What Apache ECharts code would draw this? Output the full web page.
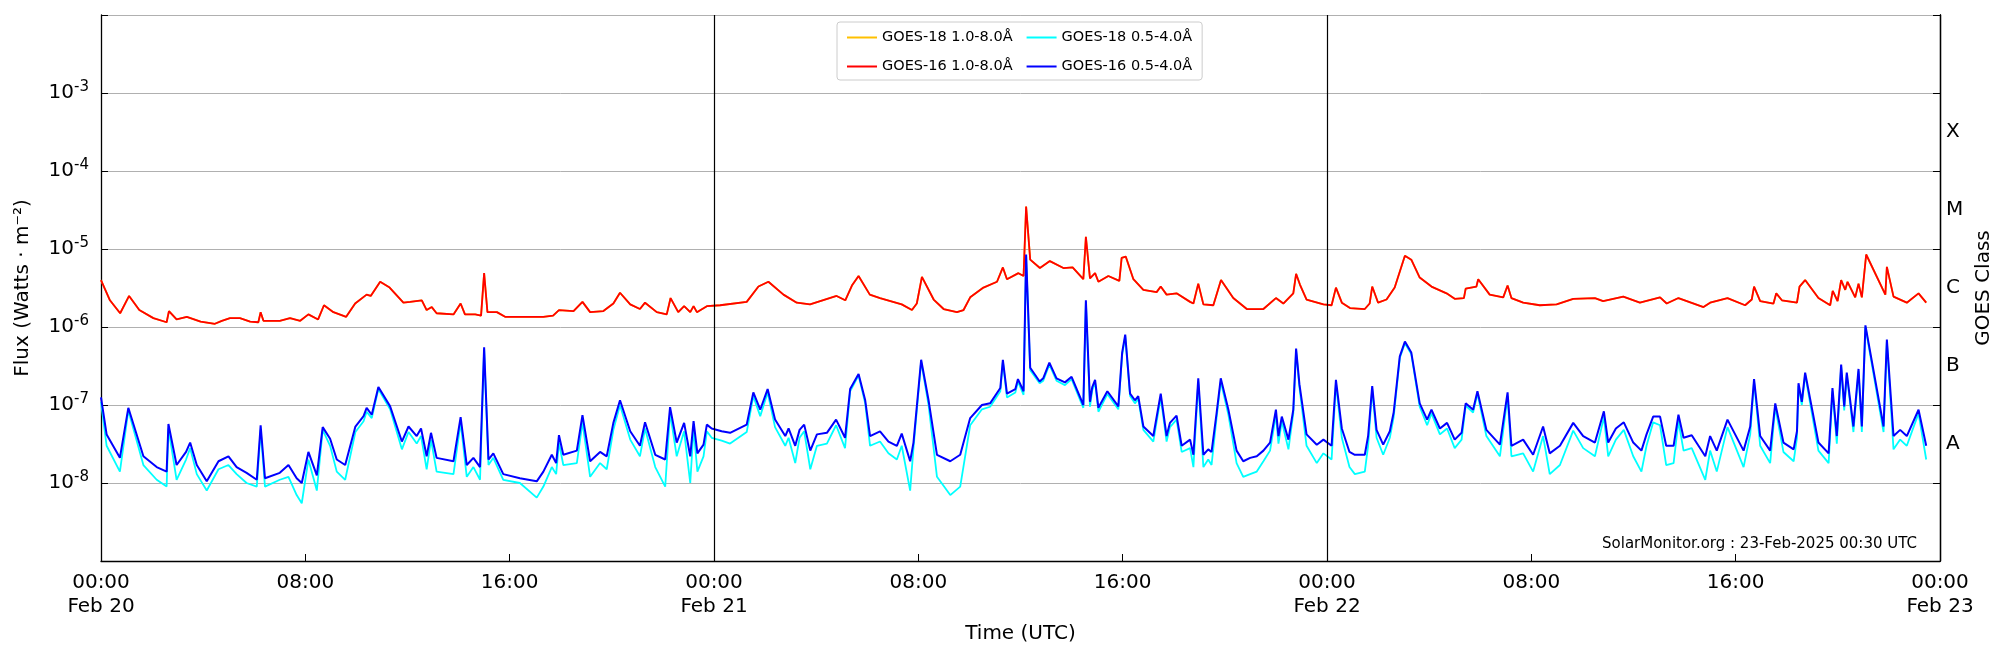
<!DOCTYPE html>
<html>
<head>
<meta charset="utf-8">
<script src="https://cdn.jsdelivr.net/npm/echarts@6/dist/echarts.min.js"></script>
<style>html,body{margin:0;padding:0;background:#fff;overflow:hidden}#chart{width:2000px;height:650px}</style>
</head>
<body>
<div id="chart"></div>
<script>
// hours since Feb 20 00:00 UTC, flux in units of 1e-9 W/m^2
var hoursLong = [0,0.35,0.75,1.1,1.5,2.05,2.57,2.66,2.96,3.36,3.9,4.46,4.73,5.05,5.44,5.84,6.16,6.25,6.36,7.0,7.4,7.8,8.12,8.5,8.73,9.1,9.6,9.95,10.4,10.56,10.93,11.3,11.84,12.1,
  12.56,12.75,12.95,13.14,13.8,14.08,14.25,14.65,14.88,15.0,15.13,15.5,15.82,16.4,17.32,17.7,17.93,18.5,18.85,19.15,19.67,20.06,20.32,20.72,21.1,21.3,21.76,22.15,22.3,22.6,22.83,23.07,23.2,23.33,23.72,24.24,
  25.28,25.74,26.13,26.72,27.24,27.76,28.8,29.14,29.4,29.66,30.1,30.5,31.35,31.75,31.94,32.14,32.6,32.99,33.51,33.77,34.03,34.55,35.08,35.31,35.47,35.92,36.12,36.22,36.38,
  36.76,37.15,37.68,38.04,38.46,38.56,38.72,38.92,39.05,39.44,39.87,39.96,40.12,40.42,40.81,41.33,41.49,41.72,42.11,42.64,42.77,42.96,43.16,43.55,43.85,44.33,44.86,45.51,46.0,46.29,46.68,46.79,46.94,47.2,47.86,48.18,48.35,48.58,
  48.9,49.48,49.67,49.77,50.0,50.33,50.65,51.05,51.3,51.63,52.09,52.68,53.0,53.36,53.43,53.85,53.92,54.37,54.9,55.07,55.22,55.68,56.33,56.99,57.64,58.49,58.81,59.6,60.25,
  61.04,61.3,61.76,62.74,63.0,63.68,64.37,64.63,64.72,64.96,65.48,65.59,65.81,66.4,66.5,66.72,67.24,67.7,67.8,67.99,68.13,68.29,68.38,68.68,68.81,68.94,69.11,69.86,69.92,70.18,70.7,71.16,71.46];
var g16Long = [4000,2200,1500,2500,1650,1300,1150,1600,1250,1350,1170,1100,1200,1300,1300,1170,1150,1550,1200,1200,1300,1200,1450,1250,1900,1550,1350,2000,2600,2500,3800,3200,2050,2100,
  2200,1650,1800,1500,1450,2000,1450,1450,1400,4900,1550,1550,1350,1350,1350,1400,1650,1600,2100,1550,1600,2000,2750,1950,1700,2050,1550,1450,2350,1550,1850,1550,1850,1550,1850,1900,
  2100,3300,3800,2600,2050,1950,2500,2200,3400,4500,2600,2350,1950,1650,2000,4400,2250,1700,1550,1650,2400,3200,3800,5800,4100,4900,4500,35000,7300,
  5700,7000,5700,5800,4100,14300,4200,4900,3800,4500,3900,7700,8000,4100,3000,2800,3300,2600,2700,2100,2000,3600,1950,1900,4000,2350,1700,1700,2350,2000,2700,4800,3500,2250,1950,1900,3200,2050,
  1750,1700,2000,3300,2050,2250,3200,8200,7300,4300,3300,2700,2300,2350,3100,3300,4100,2600,2400,3400,2350,2050,1900,1950,2300,2350,2150,2450,2050,
  2400,2000,2350,1800,2050,2350,1900,2250,3300,2150,2000,2700,2200,2050,3300,4000,2350,1900,2900,2150,4000,3000,3800,2400,3600,2400,8500,2600,5900,2450,2050,2700,2050];
var g18Long = [4000,2200,1500,2500,1650,1300,1150,1600,1250,1350,1170,1100,1200,1300,1300,1170,1150,1550,1200,1200,1300,1200,1450,1250,1900,1550,1350,2000,2600,2500,3800,3200,2050,2100,
  2200,1650,1800,1500,1450,2000,1450,1450,1400,4900,1550,1550,1350,1350,1350,1400,1650,1600,2100,1550,1600,2000,2750,1950,1700,2050,1550,1450,2350,1550,1850,1550,1850,1550,1850,1900,
  2100,3300,3800,2600,2050,1950,2500,2200,3400,4500,2600,2350,1950,1650,2000,4400,2250,1700,1550,1650,2400,3200,3800,5800,4100,4900,4500,35000,7300,
  5700,7000,5700,5800,4100,14300,4200,4900,3800,4500,3900,7700,8000,4100,3000,2800,3300,2600,2700,2100,2000,3600,1950,1900,4000,2350,1700,1700,2350,2000,2700,4800,3500,2250,1950,1900,3200,2050,
  1750,1700,2000,3300,2050,2250,3200,8200,7300,4300,3300,2700,2300,2350,3100,3300,4100,2600,2400,3400,2350,2050,1900,1950,2300,2350,2150,2450,2050,
  2400,2000,2350,1800,2050,2350,1900,2250,3300,2150,2000,2700,2200,2050,3300,4000,2350,1900,2900,2150,4000,3000,3800,2400,3600,2400,8500,2600,5900,2450,2050,2700,2050];

var hoursShort = [0,0.22,0.74,1.07,1.66,2.18,2.57,2.64,2.96,3.33,3.49,3.75,4.14,4.6,4.99,5.31,5.7,6.1,6.25,6.42,7.0,7.34,7.66,7.86,8.12,8.45,8.68,8.97,9.23,9.56,9.96,10.28,10.4,10.6,10.86,11.32,11.78,12.04,
  12.36,12.53,12.75,12.92,13.14,13.8,14.08,14.32,14.58,14.84,15.0,15.17,15.36,15.75,16.4,17.06,17.32,17.65,17.82,17.93,18.1,18.63,18.85,19.15,19.54,19.8,20.06,20.32,20.72,21.1,21.3,21.7,22.09,22.28,22.54,22.83,23.07,23.2,23.35,23.59,23.72,23.91,
  24.3,24.63,25.28,25.54,25.81,26.1,26.39,26.79,26.92,27.18,27.35,27.53,27.77,28.03,28.42,28.78,29.13,29.33,29.66,29.92,30.11,30.5,30.83,31.16,31.35,31.68,31.81,32.11,32.4,32.73,33.25,33.64,34.03,34.49,34.81,35.21,35.31,35.47,35.8,35.9,36.12,36.22,36.38,36.75,
  36.89,37.13,37.41,37.74,38.0,38.46,38.56,38.72,38.81,38.92,39.05,39.4,39.83,39.98,40.1,40.29,40.48,40.61,40.81,41.2,41.49,41.72,41.85,42.11,42.31,42.64,42.77,42.96,43.16,43.35,43.48,43.68,43.84,44.14,44.46,44.72,44.99,45.25,45.51,45.77,46.0,46.1,46.23,46.49,46.68,46.79,46.92,47.2,47.6,47.86,48.18,48.35,48.58,48.88,
  49.09,49.48,49.61,49.77,49.94,50.2,50.46,50.61,50.85,51.05,51.3,51.63,51.92,52.09,52.42,52.7,53.0,53.27,53.43,53.72,53.89,54.24,54.77,55.07,55.22,55.68,56.07,56.46,56.72,57.12,57.64,58.03,58.49,58.84,59.01,59.31,59.62,59.99,60.31,60.51,60.77,
  61.04,61.28,61.57,61.76,61.96,62.28,62.81,63.0,63.26,63.68,64.31,64.57,64.72,64.96,65.35,65.55,65.87,66.27,66.4,66.46,66.59,66.72,67.24,67.64,67.79,67.96,68.13,68.25,68.35,68.61,68.81,68.94,69.08,69.79,69.92,70.18,70.44,70.7,71.16,71.46];
var g16Short = [125,42,21,92,22,16,14,57,17,25,33,17,10.5,19,22,16,13.5,11,55,11.5,13.5,17,11.5,10,25,12.5,52,37,20,17,53,72,92,75,170,96,34,53,
  40,50,22,44,21,19,70,17,21,16,550,20,24,13,11.5,10.5,14,23,18,41,23,26,74,19,25,22,59,115,46,30,60,23,20,94,33,59,22,62,24,31,56,50,
  46,44,56,145,87,160,65,40,50,30,48,56,26,42,44,65,38,160,250,115,40,46,34,30,43,19,33,380,115,23,19,23,68,100,105,165,380,140,160,215,150,8500,300,200,
  220,350,220,195,230,100,2200,110,170,210,92,150,96,470,800,140,115,130,53,40,140,40,59,73,30,36,23,220,23,27,25,80,220,87,26,19,21,22,26,33,87,40,71,36,87,530,185,42,31,36,30,210,50,25,
  23,23,40,175,48,31,46,80,420,650,470,105,65,87,50,59,36,44,105,87,150,48,31,145,30,36,23,53,24,30,59,40,33,83,33,50,60,33,26,42,71,
  71,30,30,75,38,41,22,40,26,65,26,53,215,40,26,105,33,27,46,190,110,260,33,24,165,40,330,96,260,53,290,53,1050,53,690,40,48,40,87,30];
var g18Short = [110,30,14,85,17,11,9,50,11,20,28,13,8,15,17,13,10,9,48,9,11,12,7,5.5,20,8,48,30,14,11,45,62,82,68,160,88,27,45,
  32,40,15,36,14,13,60,12,16,11,520,17,21,11,10,6.5,9,16,13,33,17,18,60,12,18,15,48,100,36,22,50,16,9,80,22,46,10,50,14,22,46,38,
  35,32,45,130,72,145,52,30,38,18,38,46,15,30,32,55,28,150,240,105,30,34,24,20,30,8,28,360,100,12,7,9,55,88,95,150,360,125,145,200,135,8000,280,190,
  205,330,205,180,215,92,2100,95,155,195,82,138,88,440,760,130,105,120,48,34,125,34,52,65,25,28,16,200,16,20,17,70,200,75,18,12,13,14,19,26,75,32,62,27,78,500,170,30,18,24,20,190,38,16,
  13,14,30,160,38,23,38,70,400,620,450,95,55,78,42,50,28,36,98,80,140,40,22,130,22,24,14,40,13,17,47,28,22,70,22,36,48,22,14,30,60,
  55,17,18,62,26,28,11,26,14,52,16,42,200,30,18,95,25,19,38,175,100,245,26,18,150,32,310,85,245,45,270,45,1000,45,650,27,36,30,78,20];

var classLetters = {'-7.5': 'A', '-6.5': 'B', '-5.5': 'C', '-4.5': 'M', '-3.5': 'X'};
var font = 'DejaVu Sans';

function pairs(hours, vals) {
  return hours.map(function (h, i) { return [h, vals[i] * 1e-9]; });
}
function xLabel(v) {
  var h = v % 24;
  var s = (h < 10 ? '0' : '') + h + ':00';
  if (h === 0) s += '\nFeb ' + (20 + v / 24);
  return s;
}
function powLabel(v) {
  var e = Math.round(Math.log10(v));
  if (e <= -9 || e >= -2) return '';
  return '10{s|' + e + '}';
}

var chart = echarts.init(document.getElementById('chart'));
chart.setOption({
  animation: false,
  textStyle: {fontFamily: font},
  grid: {left: 101, right: 60, top: 15, bottom: 89, outerBoundsMode: 'none', containLabel: false},
  legend: {
    left: 837, top: 22, width: 380,
    itemWidth: 30, itemHeight: 2, itemGap: 14,
    padding: [8, 10, 6, 10],
    borderColor: '#cccccc', borderWidth: 1, borderRadius: 3,
    icon: 'rect',
    textStyle: {fontSize: 14.5, fontFamily: font, color: '#000', width: 136},
    data: ['GOES-18 1.0-8.0Å', 'GOES-18 0.5-4.0Å', 'GOES-16 1.0-8.0Å', 'GOES-16 0.5-4.0Å']
  },
  xAxis: {
    type: 'value', min: 0, max: 72, interval: 8,
    name: 'Time (UTC)', nameLocation: 'middle', nameGap: 60,
    nameTextStyle: {fontSize: 20, color: '#000'},
    axisLine: {lineStyle: {color: '#000', width: 1.3}},
    axisTick: {inside: true, length: 7, lineStyle: {color: '#000'}},
    axisLabel: {fontSize: 20, color: '#000', lineHeight: 24, margin: 10, formatter: xLabel},
    splitLine: {show: false}
  },
  yAxis: [{
    type: 'log', logBase: 10, min: 1e-9, max: 1e-2, position: 'left',
    name: 'Flux (Watts · m⁻²)', nameLocation: 'middle', nameGap: 68, nameRotate: 90,
    nameTextStyle: {fontSize: 20, color: '#000'},
    axisLine: {show: true, lineStyle: {color: '#000', width: 1.3}},
    axisTick: {inside: true, length: 7, lineStyle: {color: '#000'}},
    axisLabel: {
      fontSize: 20, color: '#000', margin: 12, formatter: powLabel,
      rich: {s: {fontSize: 15, verticalAlign: 'top', padding: [0, 0, 12, 0], color: '#000'}}
    },
    splitLine: {show: true, lineStyle: {color: '#b0b0b0', width: 1}}
  }, {
    type: 'value', min: -9, max: -2, interval: 0.5, position: 'right',
    name: 'GOES Class', nameLocation: 'middle', nameGap: 34, nameRotate: 90,
    nameTextStyle: {fontSize: 20, color: '#000'},
    axisLine: {show: true, lineStyle: {color: '#000', width: 1.3}},
    axisTick: {show: false},
    axisLabel: {fontSize: 20, color: '#000', margin: 6, formatter: function (v) { return classLetters[String(v)] || ''; }},
    splitLine: {show: false}
  }, {
    type: 'log', logBase: 10, min: 1e-9, max: 1e-2, position: 'right',
    axisLine: {show: true, lineStyle: {color: '#000', width: 1.3}},
    axisTick: {show: true, inside: true, length: 7, lineStyle: {color: '#000'}},
    axisLabel: {show: false},
    splitLine: {show: false}
  }],
  series: [{
    name: 'GOES-18 1.0-8.0Å', type: 'line', showSymbol: false, z: 2,
    lineStyle: {color: '#ffc000', width: 1.8}, itemStyle: {color: '#ffc000'},
    data: pairs(hoursLong, g18Long)
  }, {
    name: 'GOES-16 1.0-8.0Å', type: 'line', showSymbol: false, z: 3,
    lineStyle: {color: '#ff0000', width: 1.8}, itemStyle: {color: '#ff0000'},
    data: pairs(hoursLong, g16Long),
    markLine: {
      silent: true, symbol: 'none', label: {show: false},
      lineStyle: {color: '#000', width: 1.2, type: 'solid'},
      data: [{xAxis: 24}, {xAxis: 48}]
    }
  }, {
    name: 'GOES-18 0.5-4.0Å', type: 'line', showSymbol: false, z: 2,
    lineStyle: {color: '#00ffff', width: 1.8}, itemStyle: {color: '#00ffff'},
    data: pairs(hoursShort, g18Short)
  }, {
    name: 'GOES-16 0.5-4.0Å', type: 'line', showSymbol: false, z: 3,
    lineStyle: {color: '#0000ff', width: 2}, itemStyle: {color: '#0000ff'},
    data: pairs(hoursShort, g16Short)
  }],
  graphic: [{
    type: 'text', right: 83, top: 537,
    style: {text: 'SolarMonitor.org : 23-Feb-2025 00:30 UTC', font: '15px "DejaVu Sans"', fill: '#000'}
  }]
});
</script>
</body>
</html>
